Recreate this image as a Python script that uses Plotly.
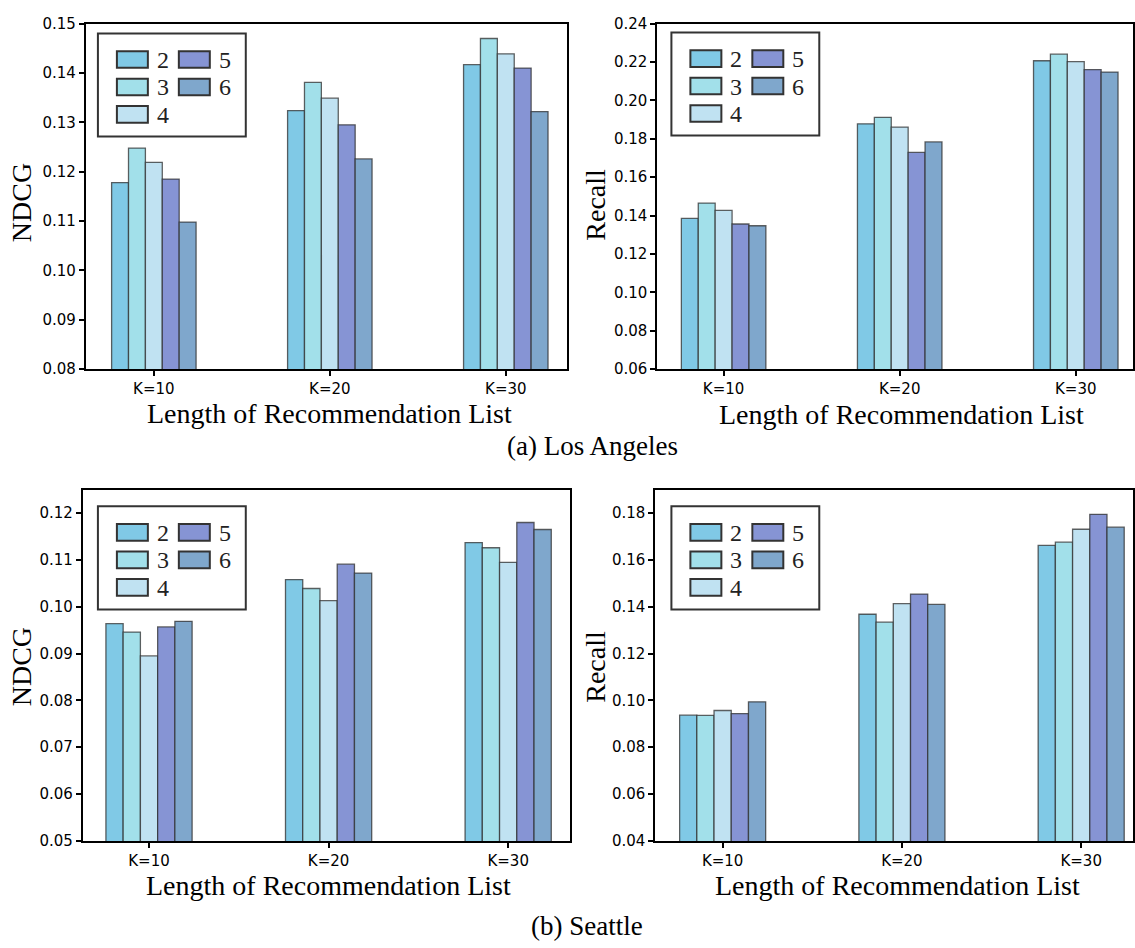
import plotly.graph_objects as go

# ---- data ---------------------------------------------------------------
categories = ["K=10", "K=20", "K=30"]
series_names = ["2", "3", "4", "5", "6"]

# one row per series (2..6), one value per list length K
la_ndcg = [
    [0.1178, 0.1324, 0.1417],
    [0.1248, 0.1381, 0.1470],
    [0.1219, 0.1349, 0.1439],
    [0.1185, 0.1295, 0.1410],
    [0.1098, 0.1226, 0.1322],
]
la_recall = [
    [0.1385, 0.1878, 0.2207],
    [0.1465, 0.1912, 0.2241],
    [0.1427, 0.1861, 0.2202],
    [0.1356, 0.1729, 0.2161],
    [0.1347, 0.1784, 0.2148],
]
sea_ndcg = [
    [0.0964, 0.1058, 0.1137],
    [0.0946, 0.1039, 0.1126],
    [0.0895, 0.1013, 0.1095],
    [0.0957, 0.1091, 0.1180],
    [0.0969, 0.1072, 0.1165],
]
sea_recall = [
    [0.0937, 0.1368, 0.1662],
    [0.0936, 0.1334, 0.1676],
    [0.0957, 0.1413, 0.1731],
    [0.0944, 0.1454, 0.1795],
    [0.0994, 0.1410, 0.1740],
]

# ---- styling ------------------------------------------------------------
W, H = 1135, 948
colors = ["#80C9E6", "#A2E0EA", "#C0E2F2", "#8694D4", "#7FA7CC"]
edge = "rgba(45,45,45,0.75)"
serif = "Liberation Serif"
sans = "DejaVu Sans"


def px(x):
    return x / W


def py(y):
    return 1 - y / H


# panel boxes in pixels: (left, right, top, bottom), y range, dtick, x range
panels = [
    dict(data=la_ndcg, box=(86, 567, 15, 367), yr=(0.08, 0.15), dt=0.01,
         xr=(-0.386, 2.345), ylab="NDCG", ylab_pos=(21, 197),
         xlab_pos=(330, 412), leg=(98, 25)),
    dict(data=la_recall, box=(658, 1134, 15, 367), yr=(0.06, 0.24), dt=0.02,
         xr=(-0.376, 2.325), ylab="Recall", ylab_pos=(596, 199),
         xlab_pos=(902, 413), leg=(672, 24)),
    dict(data=sea_ndcg, box=(83, 571, 490, 848), yr=(0.05, 0.125), dt=0.01,
         xr=(-0.368, 2.347), ylab="NDCG", ylab_pos=(21, 670),
         xlab_pos=(329, 893), leg=(98, 507)),
    dict(data=sea_recall, box=(656, 1134, 490, 848), yr=(0.04, 0.19), dt=0.02,
         xr=(-0.375, 2.289), ylab="Recall", ylab_pos=(596, 670),
         xlab_pos=(898, 893), leg=(672, 507)),
]

fig = go.Figure()
shapes = []
annotations = []

for p_i, p in enumerate(panels):
    ax = "" if p_i == 0 else str(p_i + 1)
    for s_i, name in enumerate(series_names):
        fig.add_trace(go.Bar(
            x=categories, y=p["data"][s_i], name=name,
            xaxis="x" + ax, yaxis="y" + ax,
            marker=dict(color=colors[s_i], line=dict(color=edge, width=1.3)),
            showlegend=False,
        ))
    l, r, t, b = p["box"]
    axis_common = dict(showline=True, linecolor="black", linewidth=2,
                       mirror=True, ticks="outside", ticklen=5, tickwidth=1.5,
                       tickcolor="black", showgrid=False, zeroline=False,
                       tickfont=dict(family=sans, size=15, color="black"))
    fig.layout["xaxis" + ax] = dict(
        domain=[px(l), px(r)], anchor="y" + ax, range=list(p["xr"]),
        type="category", **axis_common)
    fig.layout["yaxis" + ax] = dict(
        domain=[py(b), py(t)], anchor="x" + ax, range=list(p["yr"]),
        dtick=p["dt"], tick0=0, tickformat=".2f", **axis_common)

    # axis titles
    annotations.append(dict(
        text="Length of Recommendation List", xref="paper", yref="paper",
        x=px(p["xlab_pos"][0]), y=py(p["xlab_pos"][1]), showarrow=False,
        xanchor="center", yanchor="middle",
        font=dict(family=serif, size=28, color="black")))
    annotations.append(dict(
        text=p["ylab"], xref="paper", yref="paper", textangle=-90,
        x=px(p["ylab_pos"][0]), y=py(p["ylab_pos"][1]), showarrow=False,
        xanchor="center", yanchor="middle",
        font=dict(family=serif, size=28, color="black")))

    # legend: framed box, two columns (2,3,4 | 5,6)
    lx, ly = p["leg"]
    shapes.append(dict(type="rect", xref="paper", yref="paper",
                       x0=px(lx), x1=px(lx + 148), y0=py(ly), y1=py(ly + 105),
                       line=dict(color="#333333", width=2),
                       fillcolor="white"))
    for s_i, name in enumerate(series_names):
        col, row = divmod(s_i, 3)
        sx = lx + (19 if col == 0 else 81)
        sy = ly + 18 + row * 28
        shapes.append(dict(type="rect", xref="paper", yref="paper",
                           x0=px(sx), x1=px(sx + 31),
                           y0=py(sy), y1=py(sy + 17),
                           line=dict(color="#333333", width=2),
                           fillcolor=colors[s_i]))
        annotations.append(dict(
            text=name, xref="paper", yref="paper",
            x=px(sx + 38), y=py(sy + 9), showarrow=False,
            xanchor="left", yanchor="middle",
            font=dict(family=serif, size=24, color="#222222")))

# figure captions
annotations.append(dict(text="(a) Los Angeles", xref="paper", yref="paper",
                        x=px(593), y=py(445), showarrow=False,
                        xanchor="center", yanchor="middle",
                        font=dict(family=serif, size=27, color="black")))
annotations.append(dict(text="(b) Seattle", xref="paper", yref="paper",
                        x=px(588), y=py(935), showarrow=False,
                        xanchor="center", yanchor="middle",
                        font=dict(family=serif, size=27, color="black")))

fig.update_layout(
    width=W, height=H,
    margin=dict(l=0, r=0, t=0, b=0),
    paper_bgcolor="white", plot_bgcolor="white",
    barmode="group", bargap=0.52, bargroupgap=0,
    shapes=shapes, annotations=annotations,
    showlegend=False,
)

fig.write_html("out.html")
